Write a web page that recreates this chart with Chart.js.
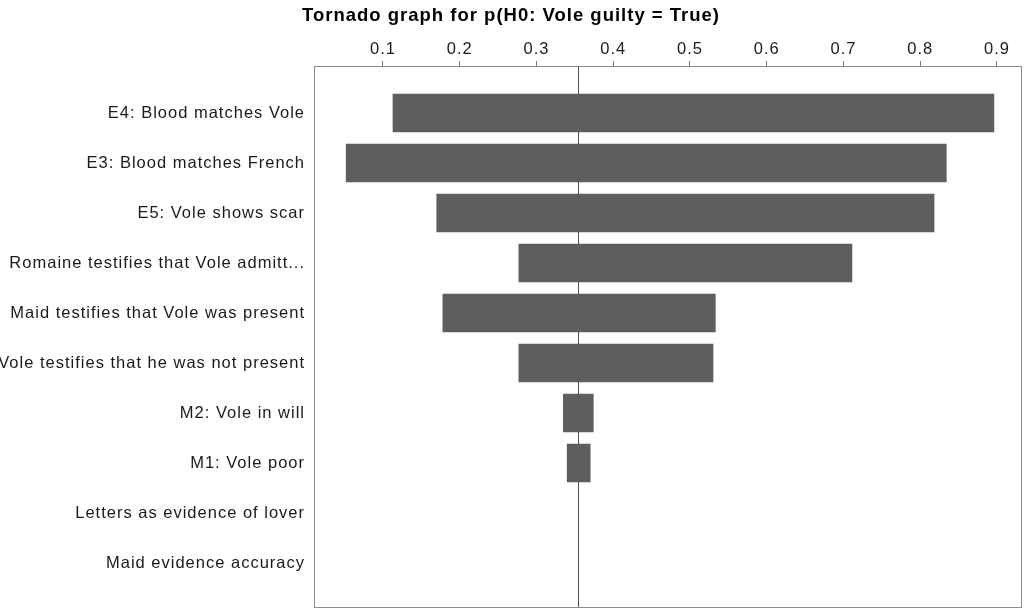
<!DOCTYPE html>
<html>
<head>
<meta charset="utf-8">
<script src="https://cdn.jsdelivr.net/npm/chart.js@4/dist/chart.umd.min.js"></script>
<style>
  body { margin: 0; background: #fff; }
  #wrap { width: 1027px; height: 610px; }
</style>
</head>
<body>
<div id="wrap"><canvas id="tornado"></canvas></div>
<script>
// Dados do gráfico
const categorias = [
    'E4: Blood matches Vole',
    'E3: Blood matches French',
    'E5: Vole shows scar',
    'Romaine testifies that Vole admitt...',
    'Maid testifies that Vole was present',
    'Vole testifies that he was not present',
    'M2: Vole in will',
    'M1: Vole poor',
    'Letters as evidence of lover',
    'Maid evidence accuracy'
];
const valorMinimo = [0.113, 0.052, 0.170, 0.277, 0.178, 0.277, 0.335, 0.340, null, null];
const valorMaximo = [0.896, 0.834, 0.818, 0.711, 0.533, 0.530, 0.374, 0.370, null, null];
const valorBase = 0.354;
const ticksX = [0.1, 0.2, 0.3, 0.4, 0.5, 0.6, 0.7, 0.8, 0.9];

const FONTE = "'Liberation Sans', Arial, sans-serif";

// Espaçamento entre letras, como no original
const espacamento = {
    id: 'espacamento',
    beforeUpdate(chart) { chart.ctx.letterSpacing = '1px'; },
    beforeDraw(chart) { chart.ctx.letterSpacing = '1px'; }
};

// Linha vertical do valor base (por baixo das barras)
const linhaBase = {
    id: 'linhaBase',
    beforeDatasetsDraw(chart) {
        const { ctx, chartArea, scales } = chart;
        const x = Math.round(scales.x.getPixelForValue(valorBase)) + 0.5;
        ctx.save();
        ctx.strokeStyle = '#505050';
        ctx.lineWidth = 1;
        ctx.beginPath();
        ctx.moveTo(x, chartArea.top);
        ctx.lineTo(x, chartArea.bottom);
        ctx.stroke();
        ctx.restore();
    }
};

// Moldura da área do gráfico
const moldura = {
    id: 'moldura',
    afterDraw(chart) {
        const { ctx, chartArea } = chart;
        ctx.save();
        ctx.strokeStyle = '#8c8c8c';
        ctx.lineWidth = 1;
        ctx.strokeRect(Math.round(chartArea.left) + 0.5, Math.round(chartArea.top) + 0.5,
            Math.round(chartArea.width) - 1, Math.round(chartArea.height) - 1);
        ctx.restore();
    }
};

const dados = categorias
    .map((c, i) => ({ x: [valorMinimo[i], valorMaximo[i]], y: i }))
    .filter(d => d.x[0] !== null);

new Chart(document.getElementById('tornado'), {
    type: 'bar',
    data: {
        datasets: [{
            label: 'p(H0)',
            data: dados,
            backgroundColor: '#5e5e5e',
            borderWidth: 0,
            barThickness: 38
        }]
    },
    options: {
        indexAxis: 'y',
        responsive: true,
        maintainAspectRatio: false,
        animation: false,
        layout: { padding: { left: 0, right: 5, top: 0, bottom: 2 } },
        plugins: {
            legend: { display: false },
            tooltip: { enabled: false },
            title: {
                display: true,
                text: 'Tornado graph for p(H0: Vole guilty = True)',
                color: '#000',
                font: { family: FONTE, size: 18.5, weight: 'bold' },
                padding: { top: 5, bottom: 0 }
            }
        },
        scales: {
            x: {
                type: 'linear',
                position: 'top',
                min: 0.0101,
                max: 0.9326,
                afterBuildTicks(scale) {
                    scale.ticks = ticksX.map(v => ({ value: v }));
                },
                afterFit(scale) {
                    scale.height = 66 - 27.2;
                    scale.paddingLeft = 0;
                    scale.paddingRight = 0;
                },
                ticks: {
                    color: '#1a1a1a',
                    font: { family: FONTE, size: 16.5 },
                    padding: 2,
                    maxRotation: 0,
                    callback: v => v.toFixed(1)
                },
                grid: {
                    drawOnChartArea: false,
                    drawTicks: true,
                    tickLength: 5,
                    color: '#777'
                },
                border: { display: false }
            },
            y: {
                type: 'linear',
                reverse: true,
                offset: false,
                min: -0.94,
                max: 9.9,
                afterBuildTicks(scale) {
                    scale.ticks = categorias.map((c, i) => ({ value: i }));
                },
                afterFit(scale) {
                    scale.width = 314;
                    scale.paddingTop = 0;
                    scale.paddingBottom = 0;
                },
                ticks: {
                    color: '#1a1a1a',
                    font: { family: FONTE, size: 16.5 },
                    padding: 9,
                    autoSkip: false,
                    callback: v => categorias[v] || ''
                },
                grid: { display: false, drawTicks: false },
                border: { display: false }
            }
        }
    },
    plugins: [espacamento, linhaBase, moldura]
});
</script>
</body>
</html>
